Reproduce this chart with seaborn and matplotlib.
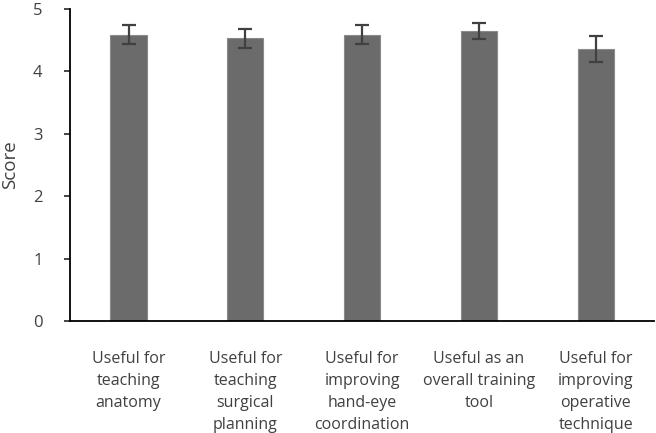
import matplotlib
matplotlib.use("Agg")
import matplotlib.pyplot as plt
import seaborn as sns
import pandas as pd

categories = [
    "Useful for\nteaching\nanatomy",
    "Useful for\nteaching\nsurgical\nplanning",
    "Useful for\nimproving\nhand-eye\ncoordination",
    "Useful as an\noverall training\ntool",
    "Useful for\nimproving\noperative\ntechnique",
]
scores = [4.59, 4.53, 4.59, 4.65, 4.36]
errors = [0.155, 0.155, 0.155, 0.125, 0.21]

df = pd.DataFrame({"category": categories, "score": scores})

sns.set_style("white")
plt.rcParams["font.family"] = ["Open Sans", "DejaVu Sans"]
text_col = "#404040"

fig = plt.figure(figsize=(6.56, 4.33), dpi=100)
ax = fig.add_axes([0.107, 0.259, 0.89, 0.72])

sns.barplot(data=df, x="category", y="score", color="#6b6b6b", width=0.31,
            edgecolor="#8a8a8a", linewidth=0.8, saturation=1, ax=ax)
ax.errorbar(range(len(categories)), scores, yerr=errors, fmt="none",
            ecolor="#404040", elinewidth=1.6, capsize=5, capthick=1.6)

ax.set_ylim(0, 5)
ax.set_xlim(-0.5, len(categories) - 0.5)
ax.set_yticks(range(6))
ax.set_xlabel("")
ax.set_ylabel("Score", fontsize=13.5, color=text_col, labelpad=10)
ax.tick_params(axis="y", left=True, length=4, width=1.2, labelsize=12,
               labelcolor=text_col, pad=16)
ax.tick_params(axis="x", bottom=False, labelsize=11.5, labelcolor=text_col, pad=18)
for lab in ax.get_xticklabels():
    lab.set_linespacing(1.5)

sns.despine(ax=ax)
ax.spines["left"].set_linewidth(1.3)
ax.spines["bottom"].set_linewidth(1.3)
ax.spines["left"].set_color("black")
ax.spines["bottom"].set_color("black")

fig.savefig("out.png", dpi=100)
